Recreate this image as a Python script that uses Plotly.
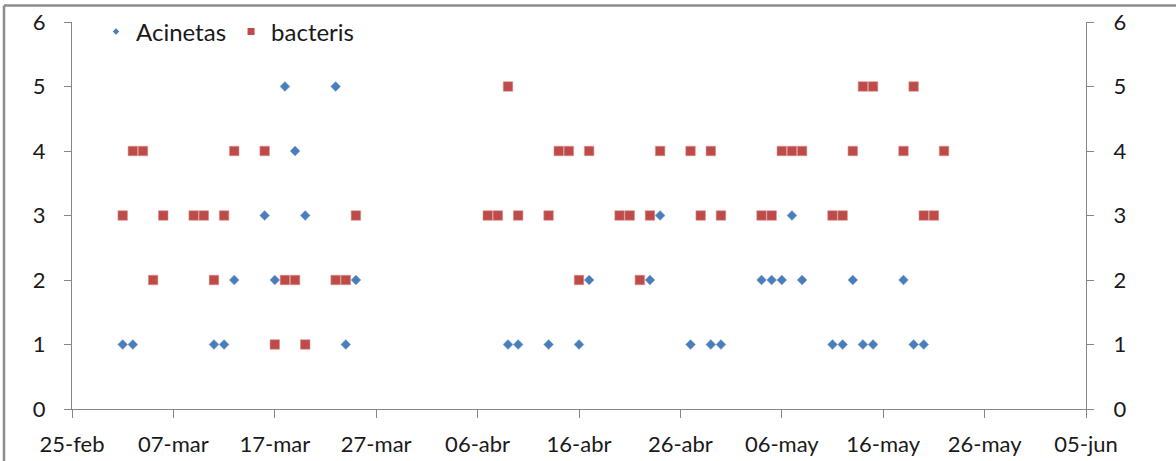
import plotly.graph_objects as go

# ---- data ----
acinetas_dates = [
    "2013-03-02", "2013-03-03", "2013-03-11", "2013-03-12", "2013-03-13",
    "2013-03-16", "2013-03-17", "2013-03-18", "2013-03-19", "2013-03-20",
    "2013-03-23", "2013-03-24", "2013-03-25",
    "2013-04-09", "2013-04-10", "2013-04-13", "2013-04-16", "2013-04-17",
    "2013-04-23", "2013-04-24", "2013-04-27", "2013-04-29", "2013-04-30",
    "2013-05-04", "2013-05-05", "2013-05-06", "2013-05-07", "2013-05-08",
    "2013-05-11", "2013-05-12", "2013-05-13", "2013-05-14", "2013-05-15",
    "2013-05-18", "2013-05-19", "2013-05-20",
]
acinetas_values = [
    1, 1, 1, 1, 2,
    3, 2, 5, 4, 3,
    5, 1, 2,
    1, 1, 1, 1, 2,
    2, 3, 1, 1, 1,
    2, 2, 2, 3, 2,
    1, 1, 2, 1, 1,
    2, 1, 1,
]

bacteris_dates = [
    "2013-03-02", "2013-03-03", "2013-03-04", "2013-03-05", "2013-03-06",
    "2013-03-09", "2013-03-10", "2013-03-11", "2013-03-12", "2013-03-13",
    "2013-03-16", "2013-03-17", "2013-03-18", "2013-03-19", "2013-03-20",
    "2013-03-23", "2013-03-24", "2013-03-25",
    "2013-04-07", "2013-04-08", "2013-04-09", "2013-04-10", "2013-04-13",
    "2013-04-14", "2013-04-15", "2013-04-16", "2013-04-17", "2013-04-20",
    "2013-04-21", "2013-04-22", "2013-04-23", "2013-04-24", "2013-04-27",
    "2013-04-28", "2013-04-29", "2013-04-30",
    "2013-05-04", "2013-05-05", "2013-05-06", "2013-05-07", "2013-05-08",
    "2013-05-11", "2013-05-12", "2013-05-13", "2013-05-14", "2013-05-15",
    "2013-05-18", "2013-05-19", "2013-05-20", "2013-05-21", "2013-05-22",
]
bacteris_values = [
    3, 4, 4, 2, 3,
    3, 3, 2, 3, 4,
    4, 1, 2, 2, 1,
    2, 2, 3,
    3, 3, 5, 3, 3,
    4, 4, 2, 4, 3,
    3, 2, 3, 4, 4,
    3, 4, 3,
    3, 3, 4, 4, 4,
    3, 3, 4, 5, 5,
    4, 5, 3, 3, 4,
]

x_tick_dates = ["2013-02-25", "2013-03-07", "2013-03-17", "2013-03-27", "2013-04-06",
                "2013-04-16", "2013-04-26", "2013-05-06", "2013-05-16", "2013-05-26",
                "2013-06-05"]
x_tick_labels = ["25-feb", "07-mar", "17-mar", "27-mar", "06-abr", "16-abr",
                 "26-abr", "06-may", "16-may", "26-may", "05-jun"]
y_ticks = [0, 1, 2, 3, 4, 5, 6]

BLUE = "#4A7EBB"
RED = "#BE4B48"
AXIS = "#868686"
FONT = "Lato"

ML, MR, MT, MB = 72, 90, 22, 52
W, H = 1176, 461
plot_w = W - ML - MR
plot_h = H - MT - MB


def px_x(p):
    return (p - ML) / plot_w


def px_y(p):
    return (H - MB - p) / plot_h


fig = go.Figure()

fig.add_trace(go.Scatter(
    x=acinetas_dates, y=acinetas_values, mode="markers", name="Acinetas",
    marker=dict(symbol="diamond", size=7.5, color=BLUE,
                line=dict(width=0.6, color="#7FA3D3")),
    showlegend=False,
))
fig.add_trace(go.Scatter(
    x=bacteris_dates, y=bacteris_values, mode="markers", name="bacteris",
    marker=dict(symbol="square", size=9.5, color=RED,
                line=dict(width=0.6, color="#D88F8D")),
    showlegend=False,
))
# legend entries (small markers, like the reference)
fig.add_trace(go.Scatter(
    x=[None], y=[None], mode="markers", name="Acinetas",
    marker=dict(symbol="diamond", size=5, color=BLUE),
))
fig.add_trace(go.Scatter(
    x=[None], y=[None], mode="markers", name="bacteris",
    marker=dict(symbol="square", size=7, color=RED),
))
# invisible trace to activate the right axis
fig.add_trace(go.Scatter(
    x=[None], y=[None], yaxis="y2", showlegend=False, hoverinfo="skip",
))

fig.update_layout(
    width=W, height=H,
    margin=dict(l=ML, r=MR, t=MT, b=MB, autoexpand=False),
    paper_bgcolor="white", plot_bgcolor="white",
    font=dict(family=FONT, size=22, color="#1a1a1a"),
    showlegend=True,
    legend=dict(
        orientation="h", x=px_x(96), y=px_y(32), xanchor="left", yanchor="middle",
        bgcolor="rgba(0,0,0,0)", font=dict(family=FONT, size=24),
        itemwidth=30, tracegroupgap=0,
    ),
    xaxis=dict(
        type="date", range=["2013-02-25", "2013-06-05"],
        tickmode="array", tickvals=x_tick_dates, ticktext=x_tick_labels,
        showgrid=False, zeroline=False, automargin=False,
        showline=True, linecolor=AXIS, linewidth=1.3,
        ticks="outside", ticklen=8, tickcolor=AXIS, tickwidth=1.3,
        ticklabelstandoff=7,
        tickfont=dict(family=FONT, size=22),
    ),
    yaxis=dict(
        range=[0, 6], tickmode="array", tickvals=y_ticks,
        showgrid=False, zeroline=False, automargin=False,
        showline=True, linecolor=AXIS, linewidth=1.3,
        ticks="outside", ticklen=7, tickcolor=AXIS, tickwidth=1.3,
        ticklabelstandoff=14,
        tickfont=dict(family=FONT, size=22),
    ),
    yaxis2=dict(
        range=[0, 6], tickmode="array", tickvals=y_ticks,
        overlaying="y", side="right",
        showgrid=False, zeroline=False, automargin=False,
        showline=True, linecolor=AXIS, linewidth=1.3,
        ticks="outside", ticklen=7, tickcolor=AXIS, tickwidth=1.3,
        ticklabelstandoff=15,
        tickfont=dict(family=FONT, size=22),
    ),
)

# outer chart border (top and left edges visible in the reference)
fig.add_shape(type="line", xref="paper", yref="paper",
              x0=px_x(4), x1=px_x(1176), y0=px_y(5.5), y1=px_y(5.5),
              line=dict(color="#8C8C8C", width=2.5))
fig.add_shape(type="line", xref="paper", yref="paper",
              x0=px_x(4), x1=px_x(4), y0=px_y(5.5), y1=px_y(470),
              line=dict(color="#8C8C8C", width=2.5))

fig.write_html("out.html")
